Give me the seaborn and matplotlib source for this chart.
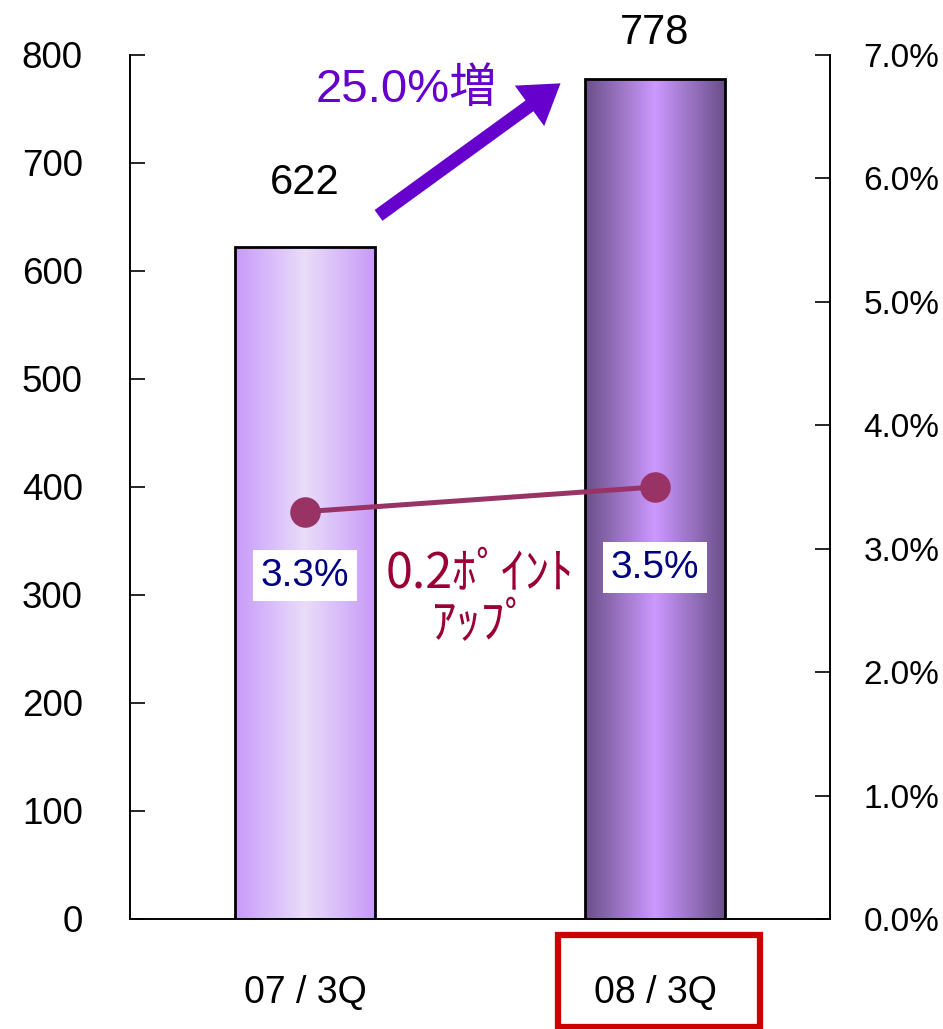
import numpy as np
import pandas as pd
import matplotlib
matplotlib.use("Agg")
import matplotlib.pyplot as plt
import seaborn as sns
from matplotlib.colors import LinearSegmentedColormap
from matplotlib.patches import Rectangle

# ---- data ----
quarters = ["07 / 3Q", "08 / 3Q"]
sales = [622, 778]
rates = [0.033, 0.035]
rate_labels = ["3.3%", "3.5%"]
growth_label = "25.0%増"
point_label = "0.2ﾎﾟｲﾝﾄ\nｱｯﾌﾟ"

sns.set_theme(style="white")
plt.rcParams["font.family"] = ["Liberation Sans", "Noto Sans CJK JP", "DejaVu Sans"]

df = pd.DataFrame({"quarter": quarters, "sales": sales, "rate": rates})

fig = plt.figure(figsize=(9.43, 10.29), dpi=100)
ax = fig.add_axes([0.1379, 0.1069, 0.7423, 0.8397])

sns.barplot(data=df, x="quarter", y="sales", ax=ax, width=0.4,
            color="#cc99ff", edgecolor="black", linewidth=2, zorder=2)

# gradient fills for the bars
grads = [
    LinearSegmentedColormap.from_list("g1", ["#c89af8", "#e9ddfa", "#c89af8"]),
    LinearSegmentedColormap.from_list("g2", ["#6a4f88", "#cc99ff", "#6a4f88"]),
]
grad = np.linspace(0, 1, 256).reshape(1, -1)
for patch, cm in zip(list(ax.patches), grads):
    x0, y0 = patch.get_x(), patch.get_y()
    w, h = patch.get_width(), patch.get_height()
    im = ax.imshow(grad, cmap=cm, aspect="auto", extent=[x0, x0 + w, y0, y0 + h],
                   zorder=2.5, interpolation="bicubic")
    im.set_clip_path(patch)
    patch.set_facecolor("none")
    patch.set_zorder(3)

ax.set_xlim(-0.5, 1.5)
ax.set_ylim(0, 800)
ax.set_yticks(range(0, 801, 100))
ax.set_xlabel("")
ax.set_ylabel("")
ax.set_xticks([-0.5, 0.5, 1.5])
ax.set_xticklabels([])
ax.set_xticks([0, 1], minor=True)
ax.set_xticklabels(quarters, minor=True)
ax.tick_params(axis="x", which="major", direction="in", length=11, width=1.2, color="#808080")
ax.tick_params(axis="x", which="minor", length=0, pad=40, labelsize=27, labelcolor="black")
ax.tick_params(axis="y", direction="in", length=11, width=1.2, color="black",
               pad=34, labelsize=26.5, labelcolor="black")
for s in ["left", "bottom", "right", "top"]:
    ax.spines[s].set_color("black")
    ax.spines[s].set_linewidth(1.2)
ax.spines["top"].set_visible(False)

# value labels on bars
for i, (v, off) in enumerate(zip(sales, [46, 33])):
    ax.annotate(str(v), (i, v), xytext=(0, off), textcoords="offset points",
                ha="center", va="center", fontsize=30, color="black")

# secondary axis: rate line
ax2 = ax.twinx()
ax2.set_ylim(0, 0.07)
sns.lineplot(x=[0, 1], y=rates, ax=ax2, color="#993366", linewidth=3.6,
             marker="o", markersize=22, markeredgewidth=0, zorder=5)
ticks = np.arange(0, 0.0701, 0.01)
ax2.set_yticks(ticks)
ax2.set_yticklabels([f"{t * 100:.1f}%" for t in ticks])
ax2.tick_params(axis="y", direction="in", length=11, width=1.2, color="black",
                pad=24, labelsize=24, labelcolor="black")
ax2.set_xlim(-0.5, 1.5)
ax2.spines["top"].set_visible(False)
for s in ["left", "bottom", "right"]:
    ax2.spines[s].set_color("black")
    ax2.spines[s].set_linewidth(1.2)

for i, (r, lab, off) in enumerate(zip(rates, rate_labels, [-46, -58])):
    ax2.annotate(lab, (i, r), xytext=(0, off), textcoords="offset points",
                 ha="center", va="center", fontsize=28, color="#000080",
                 bbox=dict(boxstyle="square,pad=0.2", fc="white", ec="none"))

ax2.text(0.5, 0.0259, point_label, ha="center", va="center", fontsize=35,
         color="#990033", family=["Noto Sans CJK JP", "DejaVu Sans"],
         linespacing=1.0)

# growth arrow and label
ax2.annotate("", xy=(0.73, 0.0677), xytext=(0.21, 0.057),
             arrowprops=dict(arrowstyle="simple,head_width=3.0,head_length=2.3,tail_width=0.8",
                             color="#6600cc", lw=0, shrinkA=0, shrinkB=0))
ax2.text(0.29, 0.0672, growth_label, ha="center", va="center", fontsize=34,
         color="#6600cc", family=["Liberation Sans", "Noto Sans CJK JP"])

# red frame around the current quarter label
box = Rectangle((0.723, -0.125), 0.577, 0.1065, transform=ax.get_xaxis_transform(),
                fill=False, ec="#cc0000", lw=4.5, clip_on=False)
ax.add_patch(box)

fig.savefig("out.png", dpi=100)
